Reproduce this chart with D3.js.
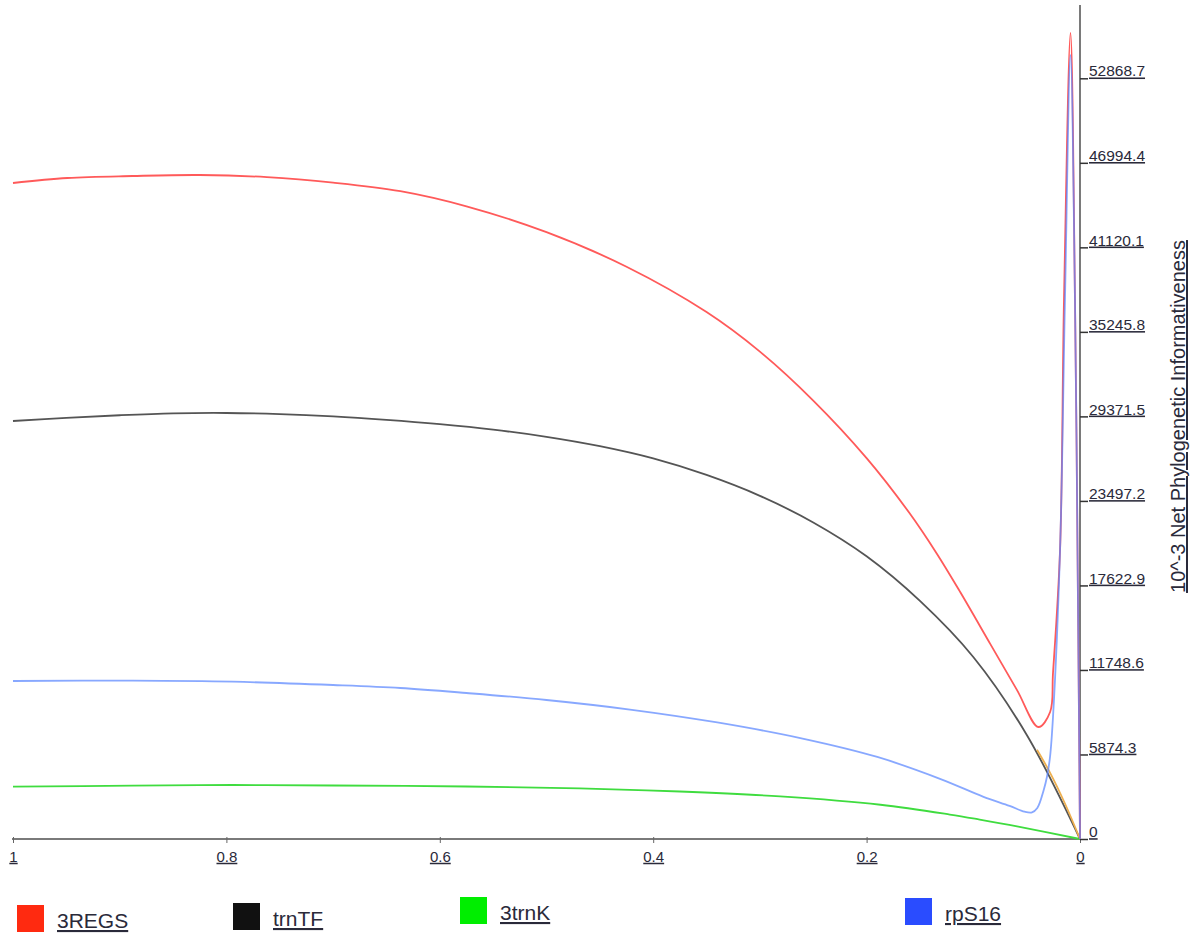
<!DOCTYPE html>
<html><head><meta charset="utf-8">
<script src="https://cdn.jsdelivr.net/npm/d3@7"></script>
<style>
html,body{margin:0;padding:0;background:#fff;}
svg text{font-family:"Liberation Sans",Arial,sans-serif;}
.lbl{text-decoration:underline;fill:#2a2a3a;}
</style>
</head><body>
<svg id="c" width="1191" height="934"></svg>
<script>
// ---- data (x = relative time, 1 -> 0; y = 10^-3 net phylogenetic informativeness)
const seriesNames = ["3REGS", "trnTF", "3trnK", "rpS16"];
const legendColors = ["#ff2a10", "#111111", "#00ee00", "#2a4cff"];
const lineColors = ["#ff5a5a", "#555555", "#3fdc3f", "#5a86ff"];

const redX =   [1.000, 0.949, 0.888, 0.825, 0.762, 0.700, 0.637, 0.575, 0.500, 0.425, 0.350, 0.300, 0.250, 0.200, 0.160, 0.134, 0.112, 0.084, 0.059, 0.039, 0.028, 0.0253, 0.0187, 0.0150, 0.0089, 0.0047, 0.0019, 0.000];
const redY =   [45592, 45940, 46079, 46148, 46000, 45620, 45026, 43972, 42172, 39772, 36622, 33872, 30472, 26472, 22672, 19812, 17128, 13544, 10344, 7784, 8827, 11537, 20086, 37461, 56017, 37461, 16611, 0];

const blackX = [1.00, 0.95, 0.90, 0.85, 0.80, 0.75, 0.70, 0.65, 0.60, 0.55, 0.50, 0.45, 0.40, 0.35, 0.30, 0.25, 0.20, 0.15, 0.10, 0.05, 0.00];
const blackY = [29051, 29270, 29450, 29580, 29607, 29530, 29370, 29130, 28830, 28450, 27950, 27300, 26450, 25300, 23850, 22000, 19650, 16550, 12650, 7250, 0];

const greenX = [1.000, 0.888, 0.794, 0.700, 0.575, 0.469, 0.375, 0.281, 0.187, 0.122, 0.094, 0.059, 0.000];
const greenY = [3635, 3704, 3753, 3718, 3650, 3520, 3300, 2960, 2380, 1700, 1350, 880, 0];

const blueX =  [1.000, 0.888, 0.794, 0.700, 0.637, 0.575, 0.500, 0.420, 0.340, 0.260, 0.190, 0.130, 0.091, 0.066, 0.052, 0.045, 0.040, 0.034, 0.031, 0.0281, 0.0253, 0.0187, 0.0141, 0.0089, 0.0047, 0.0019, 0.000];
const blueY =  [10981, 11002, 10932, 10703, 10495, 10147, 9660, 8980, 8100, 6980, 5700, 4150, 2950, 2300, 1900, 1850, 2150, 3406, 4309, 5699, 8479, 20086, 37461, 54488, 37461, 16611, 0];

// small hidden (unlabelled) series only visible near the origin
const orangeX = [0.0403, 0.028, 0.014, 0.000];
const orangeY = [6200, 4600, 2450, 0];

const xTickValues = [1, 0.8, 0.6, 0.4, 0.2, 0];
const xTickLabels = ["1", "0.8", "0.6", "0.4", "0.2", "0"];
const yTickValues = [0, 5874.3, 11748.6, 17622.9, 23497.2, 29371.5, 35245.8, 41120.1, 46994.4, 52868.7];
const yTickLabels = ["0", "5874.3", "11748.6", "17622.9", "23497.2", "29371.5", "35245.8", "41120.1", "46994.4", "52868.7"];
const yAxisTop = 57960;
const yTitle = "10^-3 Net Phylogenetic Informativeness";

// ---- drawing
const svg = d3.select("#c");
const x = d3.scaleLinear().domain([0, 1]).range([1080, 13]);
const y = d3.scaleLinear().domain([0, 52868.7]).range([839, 78.3]);

// axes lines
svg.append("line").attr("x1", x(1) - 1).attr("x2", x(0)).attr("y1", y(0)).attr("y2", y(0))
  .attr("stroke", "#7a7a7a").attr("stroke-width", 2);
svg.append("line").attr("x1", x(0)).attr("x2", x(0)).attr("y1", y(yAxisTop)).attr("y2", y(0))
  .attr("stroke", "#7a7a7a").attr("stroke-width", 2);

// x axis ticks / labels
const xAxis = d3.axisBottom(x).tickValues(xTickValues).tickSize(6)
  .tickFormat((d, i) => xTickLabels[i]);
const gx = svg.append("g").attr("transform", `translate(0,${y(0) - 2})`).call(xAxis);
gx.select(".domain").remove();
gx.selectAll(".tick line").attr("stroke", "#666");
gx.selectAll(".tick text").attr("class", "lbl").attr("dy", "1.05em")
  .style("font-size", "15px").style("font-family", "'Liberation Sans',Arial,sans-serif")
  .attr("fill", "#2a2a3a");

// y axis ticks / labels
const yAxis = d3.axisRight(y).tickValues(yTickValues).tickSize(8).tickPadding(0)
  .tickFormat((d, i) => yTickLabels[i]);
const gy = svg.append("g").attr("transform", `translate(${x(0)},0)`).call(yAxis);
gy.select(".domain").remove();
gy.selectAll(".tick line").attr("stroke", "#333").attr("stroke-width", 1.5);
gy.selectAll(".tick text").attr("class", "lbl").attr("dy", "-0.15em").attr("x", 9)
  .style("font-size", "15.5px").style("font-family", "'Liberation Sans',Arial,sans-serif")
  .attr("fill", "#2a2a3a");

// y title
svg.append("text").attr("class", "lbl")
  .attr("transform", `translate(1185,${(238 + 595) / 2}) rotate(-90)`)
  .attr("text-anchor", "middle").style("font-size", "20px")
  .text(yTitle);

// lines
const line = d3.line().x(d => x(d[0])).y(d => y(d[1])).curve(d3.curveCatmullRom.alpha(0.5));
const zip = (a, b) => a.map((v, i) => [v, b[i]]);
const series = [
  {xs: greenX, ys: greenY, c: lineColors[2], o: 1},
  {xs: blackX, ys: blackY, c: lineColors[1], o: 1},
  {xs: orangeX, ys: orangeY, c: "#eeb050", o: 1},
  {xs: redX, ys: redY, c: lineColors[0], o: 1},
  {xs: blueX, ys: blueY, c: lineColors[3], o: 0.72}
];
series.forEach(s => {
  svg.append("path").datum(zip(s.xs, s.ys)).attr("d", line)
    .attr("fill", "none").attr("stroke", s.c).attr("stroke-width", 1.8)
    .attr("stroke-opacity", s.o).attr("stroke-linejoin", "round");
});

// legend
const legendPos = [[17, 905], [233, 903], [460, 897], [905, 898]];
seriesNames.forEach((n, i) => {
  const [lx, ly] = legendPos[i];
  svg.append("rect").attr("x", lx).attr("y", ly).attr("width", 27).attr("height", 27)
    .attr("fill", legendColors[i]);
  svg.append("text").attr("class", "lbl").attr("x", lx + 40).attr("y", ly + 23)
    .style("font-size", "21px").text(n);
});
</script>
</body></html>
